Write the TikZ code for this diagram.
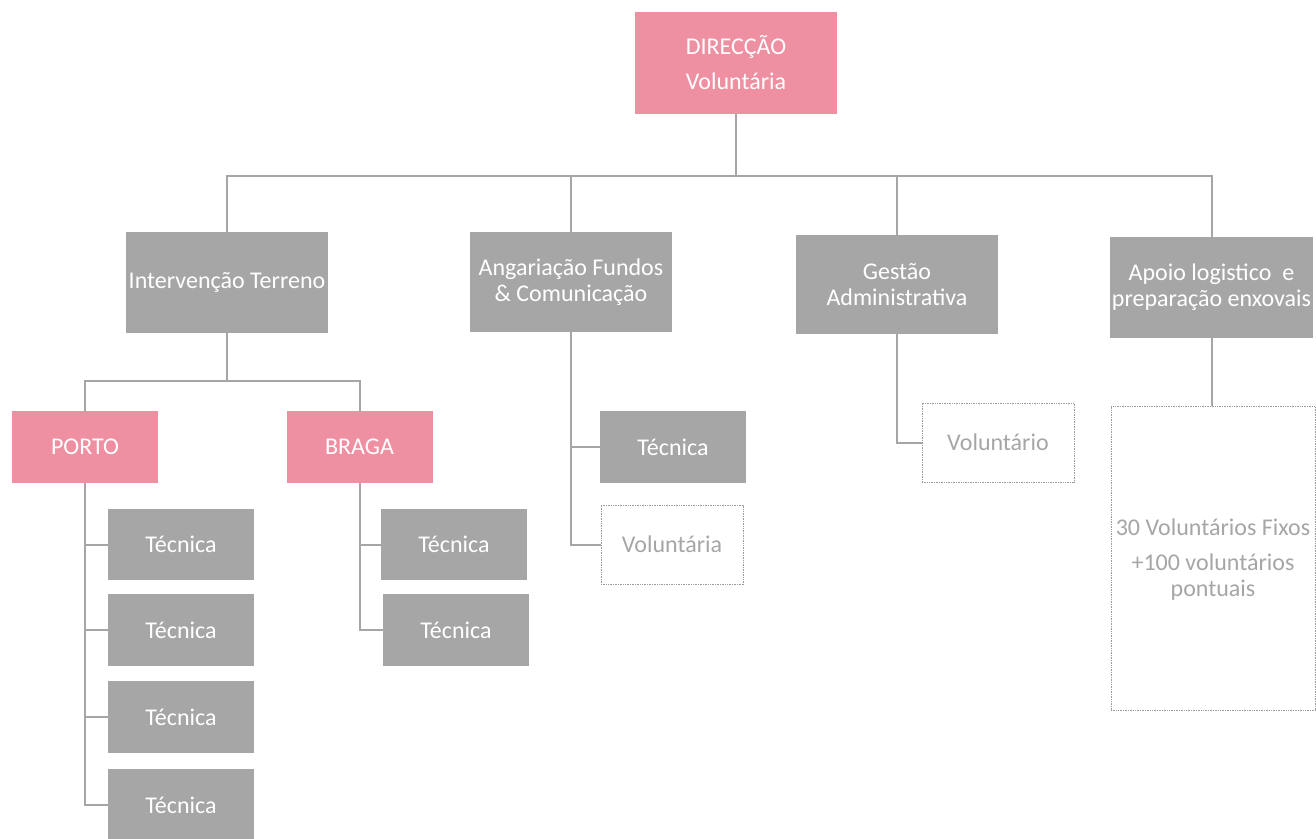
\documentclass[tikz,border=0pt]{standalone}
\usepackage{fontspec}
\setmainfont{Carlito}
\definecolor{pinkbox}{HTML}{EE90A1}
\definecolor{graybox}{HTML}{A6A6A6}
\definecolor{lineg}{HTML}{A6A6A6}
\definecolor{dotg}{HTML}{9A9A9A}
\begin{document}
\begin{tikzpicture}[x=1pt,y=-1pt,
  base/.style={rectangle, inner sep=0pt, align=center, font=\fontsize{24}{26}\selectfont},
  pbox/.style={base, fill=pinkbox, text=white},
  gbox/.style={base, fill=graybox, text=white},
  dbox/.style={base, draw=dotg, line width=0.8pt, dash pattern=on 1pt off 0.7pt, text=graybox, fill=white},
  conn/.style={draw=lineg, line width=2pt}]
\useasboundingbox (0,0) rectangle (1316,838);
% top
\node[pbox, minimum width=202, minimum height=102] (dir) at (736,63) {DIRECÇÃO\\[9pt]Voluntária};
% level 2
\node[gbox, minimum width=202, minimum height=101] (it) at (227,282.5) {Intervenção Terreno};
\node[gbox, minimum width=202, minimum height=100] (af) at (571,282) {Angariação Fundos\\\& Comunicação};
\node[gbox, minimum width=202, minimum height=99] (ga) at (897,284.5) {Gestão\\Administrativa};
\node[gbox, minimum width=203, minimum height=101] (al) at (1211.5,287.5) {Apoio logistico\ \ e\\preparação enxovais};
% cities
\node[pbox, minimum width=146, minimum height=72] (porto) at (85,447) {PORTO};
\node[pbox, minimum width=146, minimum height=72] (braga) at (359.5,447) {BRAGA};
% porto tecnicas
\node[gbox, minimum width=146, minimum height=71] (p1) at (181,544.5) {Técnica};
\node[gbox, minimum width=146, minimum height=72] (p2) at (181,630) {Técnica};
\node[gbox, minimum width=146, minimum height=72] (p3) at (181,717) {Técnica};
\node[gbox, minimum width=146, minimum height=72] (p4) at (181,805) {Técnica};
% braga tecnicas
\node[gbox, minimum width=146, minimum height=71] (b1) at (454,544.5) {Técnica};
\node[gbox, minimum width=146, minimum height=72] (b2) at (456,630) {Técnica};
% angariacao
\node[gbox, minimum width=146, minimum height=72] (a1) at (673,447) {Técnica};
\node[dbox, minimum width=142, minimum height=79] (a2) at (672,544.5) {Voluntária};
% gestao
\node[dbox, minimum width=152, minimum height=79] (g1) at (998,442.5) {Voluntário};
% apoio
\node[dbox, minimum width=204, minimum height=304, anchor=north] (v1) at (1213,406) {};
\node[base, text=graybox] (v1t) at (1213,560) {30 Voluntários Fixos\\[9pt]+100 voluntários\\pontuais};
% connectors
\coordinate (bus) at (736,176);
\draw[conn] (dir.south) -- (bus);
\draw[conn] (bus) -| (it.north);
\draw[conn] (bus) -| (af.north);
\draw[conn] (bus) -| (ga.north);
\draw[conn] (bus) -| (al.north);
\coordinate (cb) at (227,381);
\draw[conn] (it.south) -- (cb);
\draw[conn] (cb) -| (porto.north);
\draw[conn] (cb) -| (braga.north);
\draw[conn] (porto.south) |- (p1.west);
\draw[conn] (porto.south) |- (p2.west);
\draw[conn] (porto.south) |- (p3.west);
\draw[conn] (porto.south) |- (p4.west);
\draw[conn] (braga.south) |- (b1.west);
\draw[conn] (braga.south) |- (b2.west);
\draw[conn] (af.south) |- (a1.west);
\draw[conn] (af.south) |- (a2.west);
\draw[conn] (ga.south) |- (g1.west);
\draw[conn] (al.south) -- (al.south |- v1.north);
\end{tikzpicture}
\end{document}
